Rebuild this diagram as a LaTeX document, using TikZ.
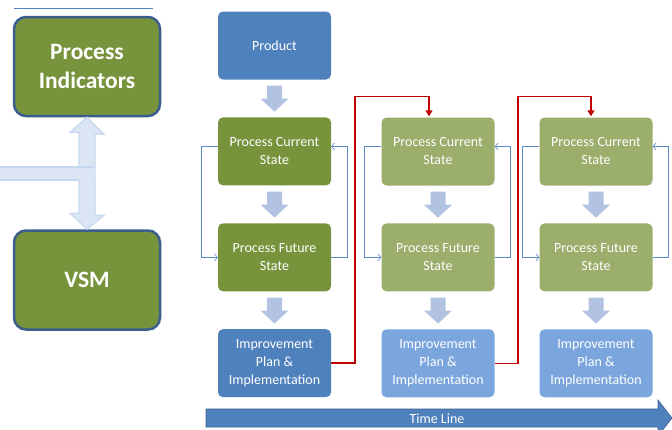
\documentclass[tikz,border=0pt]{standalone}
\usepackage{fontspec}
\setmainfont{Carlito}
\usepackage{xcolor}
\usetikzlibrary{positioning, arrows.meta, calc}

\definecolor{oliveA}{HTML}{77933C}
\definecolor{oliveB}{HTML}{9BAE6B}
\definecolor{blueA}{HTML}{4F81BD}
\definecolor{blueB}{HTML}{7AA6DD}
\definecolor{edgeblue}{HTML}{3B5E8C}
\definecolor{stepblue}{HTML}{B1C3E1}
\definecolor{paleblue}{HTML}{DBE5F4}
\definecolor{paleedge}{HTML}{C5D8F0}
\definecolor{loopblue}{HTML}{5B8BC9}
\definecolor{jumpred}{HTML}{C00000}

% block arrow hanging below a box
\newcommand{\blockdown}[1]{%
  \fill[stepblue] ($(#1.south)+(-7.5,6)$) -- ++(15,0) -- ++(0,13) -- ++(6.5,0)
    -- ++(-14,13) -- ++(-14,-13) -- ++(6.5,0) -- cycle;}

\begin{document}
\begin{tikzpicture}[x=1pt,y=-1pt,
                  box/.style={rectangle,rounded corners=5pt,text=white,align=center,
                    minimum width=113pt,minimum height=68pt,inner sep=0pt,
                    font=\fontsize{14}{18}\selectfont},
                  cur/.style={box,fill=oliveA},
                  soft/.style={box,fill=oliveB},
                  plan/.style={box,fill=blueA},
                  softplan/.style={box,fill=blueB},
                  bigbox/.style={rectangle,rounded corners=12pt,draw=edgeblue,line width=2.5pt,
                    fill=oliveA,text=white,align=center,minimum width=146pt,minimum height=99pt,
                    font=\fontsize{23.5}{29}\selectfont\bfseries},
                  loop/.style={->,>={Straight Barb[length=3pt,width=7pt]},draw=loopblue,semithick},
                  jump/.style={->,>={Triangle[length=6pt,width=7pt]},draw=jumpred,line width=1.6pt},
                  node distance=37.5pt
                  ]
                  \clip (0,0) rectangle (672,429);

                  \draw[blueA,semithick] (14,8) -- (153,8);
                  \node[bigbox] (PI)  at (87,66.5) {Process\\Indicators};
                  \node[bigbox] (VSM) at (87,280)  {VSM};
                  \filldraw[fill=paleblue,draw=paleedge,line width=1.2pt]
                    (PI.south) -- ++(17,17) -- ++(-9,0) -- ++(0,81) -- ++(9,0) -- (VSM.north)
                    -- ++(-17,-16) -- ++(9,0) -- ++(0,-81) -- ++(-9,0) -- cycle;
                  \fill[paleblue] (0,167) rectangle (95,180);
                  \draw[paleedge,line width=1.2pt] (0,167) -- (95,167) (0,180) -- (79,180);

                  \node[plan]     (Prod) at (274.5,45.5) {Product};
                  \node[cur]      (Cur1) [below=of Prod] {Process Current\\State};
                  \node[cur]      (Fut1) [below=of Cur1] {Process Future\\State};
                  \node[plan]     (Imp1) [below=of Fut1] {Improvement\\Plan \&\\Implementation};

                  \node[soft]     (Cur2) at (438,151.5) {Process Current\\State};
                  \node[soft]     (Fut2) [below=of Cur2] {Process Future\\State};
                  \node[softplan] (Imp2) [below=of Fut2] {Improvement\\Plan \&\\Implementation};

                  \node[soft]     (Cur3) at (596,151.5) {Process Current\\State};
                  \node[soft]     (Fut3) [below=of Cur3] {Process Future\\State};
                  \node[softplan] (Imp3) [below=of Fut3] {Improvement\\Plan \&\\Implementation};

                  \foreach \n in {Prod,Cur1,Fut1,Cur2,Fut2,Cur3,Fut3}
                    \blockdown{\n};

                  \foreach \c/\f in {Cur1/Fut1,Cur2/Fut2,Cur3/Fut3} {
                    \draw[loop] ([yshift=5pt]\c.west) -- ++(-17,0) |- (\f.west);
                    \draw[loop] (\f.east) -- ++(16,0) |- ([yshift=5pt]\c.east);
                  }

                  \draw[jump] (Imp1.east) -- ++(24,0) |- ([xshift=-9pt,yshift=21pt]Cur2.north)
                    -- ([xshift=-9pt,yshift=1pt]Cur2.north);
                  \draw[jump] (Imp2.east) -- ++(23,0) |- ([xshift=-5pt,yshift=21pt]Cur3.north)
                    -- ([xshift=-5pt,yshift=1pt]Cur3.north);

                  \filldraw[fill=blueA,draw=edgeblue,semithick] (206,409) -- (658,409) -- (658,400)
                    -- (672,418) -- (658,436) -- (658,427) -- (206,427) -- cycle;
                  \node[text=white,font=\fontsize{14}{16}\selectfont] (TL) at (437,418.5) {Time Line};
                \end{tikzpicture}
\end{document}
